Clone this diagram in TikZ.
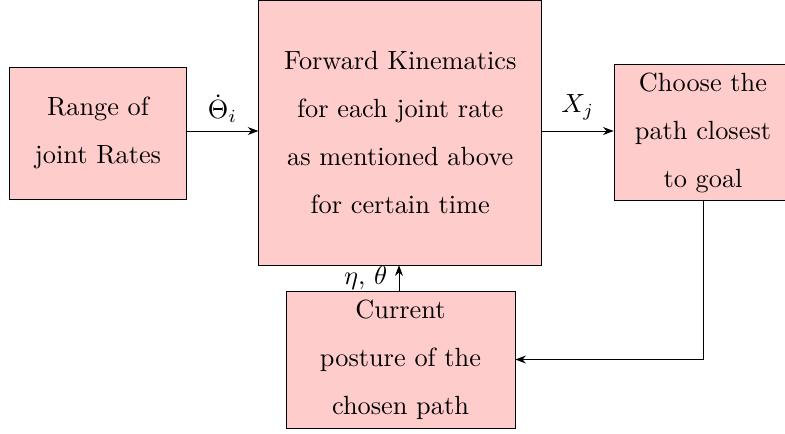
\documentclass[tikz,border=0pt]{standalone}
\usetikzlibrary{arrows.meta}
\definecolor{boxpink}{RGB}{255,204,204}
\tikzset{
  blk/.style={draw=black, fill=boxpink, line width=0.3pt, align=center, inner sep=0pt, font=\normalsize},
  conn/.style={-{Stealth[length=4pt,width=3pt]}, line width=0.3pt},
  lbl/.style={inner sep=1pt}
}
\begin{document}
\begin{tikzpicture}[x=0.38pt,y=-0.38pt]
\useasboundingbox (0,0) rectangle (785,433);
\node[blk, minimum width=177*0.38pt, minimum height=132*0.38pt] (range) at (98,133) {Range of\\[6.2pt]joint Rates};
\node[blk, minimum width=283*0.38pt, minimum height=264.5*0.38pt] (fk) at (400.2,132.7) {Forward Kinematics\\[6.2pt]for each joint rate\\[6.2pt]as mentioned above\\[6.2pt]for certain time};
\node[blk, minimum width=178*0.38pt, minimum height=136*0.38pt] (choose) at (703,132.7) {Choose the\\[6.2pt]path closest\\[6.2pt]to goal};
\node[blk, minimum width=229*0.38pt, minimum height=137*0.38pt] (posture) at (400.5,359.5) {Current\\[6.2pt]posture of the\\[6.2pt]chosen path};
\draw[conn] (range.east |- 0,131) coordinate (a1) -- node[lbl, above=2pt] (lt) {$\dot\Theta_i$} (fk.west |- a1);
\draw[conn] (fk.east |- 0,131) coordinate (a2) -- node[lbl, above=3pt] (lx) {$X_j$} (choose.west |- a2);
\draw[conn] (choose.south) -- (choose.south |- posture.east) -- (posture.east);
\draw[conn] (posture.north -| 399,0) coordinate (a3) -- (fk.south -| a3) node[pos=0.5, left=1pt] (le) {$\eta,\,\theta$};
\end{tikzpicture}
\end{document}
